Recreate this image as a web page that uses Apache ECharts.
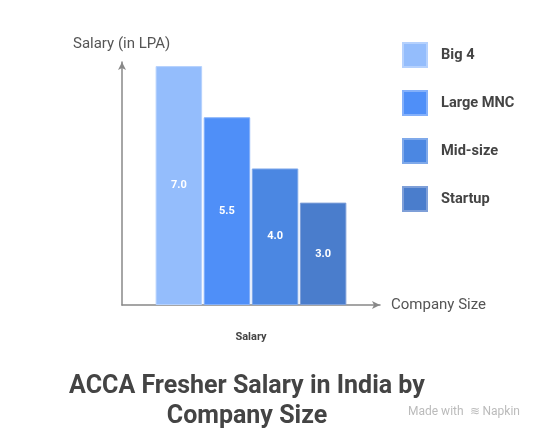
<!DOCTYPE html>
<html><head><meta charset="utf-8">
<script src="https://cdn.jsdelivr.net/npm/echarts@6/dist/echarts.min.js"></script>
<style>html,body{margin:0;padding:0;background:#fff}#c{width:542px;height:440px}</style>
</head><body><div id="c"></div>
<script>
const categories = ['Salary'];
const seriesNames = ['Big 4', 'Large MNC', 'Mid-size', 'Startup'];
const big4 = [7.0];
const largeMNC = [5.5];
const midSize = [4.0];
const startup = [3.0];
const seriesValues = [big4, largeMNC, midSize, startup];
const colors = ['#94BDFC', '#4F8FF8', '#4B87E2', '#4A7DCC'];
const borders = ['#B5D1FD', '#84B0FA', '#7FA9EA', '#7E9FD8'];

const chart = echarts.init(document.getElementById('c'), null, {renderer: 'canvas'});
const font = 'Roboto, "Noto Sans", sans-serif';
chart.setOption({
  animation: false,
  textStyle: {fontFamily: font},
  grid: {left: 122, right: 162, top: 62, bottom: 135, containLabel: false},
  title: {
    text: 'ACCA Fresher Salary in India by\nCompany Size',
    left: 242, top: 367, textAlign: 'center',
    textStyle: {fontFamily: font, fontSize: 25, fontWeight: 'bold', color: '#444', lineHeight: 30}
  },
  legend: {
    orient: 'vertical', left: 402, top: 42, padding: 0,
    itemWidth: 24, itemHeight: 24, itemGap: 22, icon: 'rect',
    textStyle: {fontFamily: font, fontSize: 14.6, fontWeight: 'bold', color: '#444', padding: [0, 0, 0, 9]},
    data: seriesNames
  },
  xAxis: {
    type: 'category', data: categories,
    name: 'Company Size', nameLocation: 'end', nameGap: 11,
    nameTextStyle: {fontFamily: font, fontSize: 15, color: '#555', verticalAlign: 'middle', padding: [5, 0, 0, 0]},
    axisLine: {lineStyle: {color: '#888', width: 1.5}, symbol: ['none', 'arrow'], symbolSize: [6, 8]},
    axisTick: {show: false},
    axisLabel: {fontFamily: font, fontSize: 11, fontWeight: 'bold', color: '#444', margin: 27}
  },
  yAxis: {
    type: 'value', min: 0, max: 7.12,
    name: 'Salary (in LPA)', nameLocation: 'end', nameGap: 10,
    nameTextStyle: {fontFamily: font, fontSize: 15, color: '#555', align: 'left', padding: [0, 0, 0, -49]},
    axisLine: {show: true, lineStyle: {color: '#888', width: 1.5}, symbol: ['none', 'arrow'], symbolSize: [6, 8]},
    axisTick: {show: false}, axisLabel: {show: false}, splitLine: {show: false}
  },
  series: seriesNames.map((n, i) => ({
    name: n, type: 'bar', data: seriesValues[i],
    barWidth: 46.5, barGap: '3.4%',
    itemStyle: {color: colors[i], borderColor: borders[i], borderWidth: 1},
    label: {show: true, position: 'inside', formatter: p => p.value.toFixed(1),
      fontFamily: font, fontSize: 11, fontWeight: 'bold', color: '#fff'}
  })),
  graphic: [{
    type: 'text', left: 408, top: 406,
    style: {text: 'Made with  ≋ Napkin', fontFamily: font, fontSize: 12, fill: '#bbb'}
  }]
});
</script></body></html>
